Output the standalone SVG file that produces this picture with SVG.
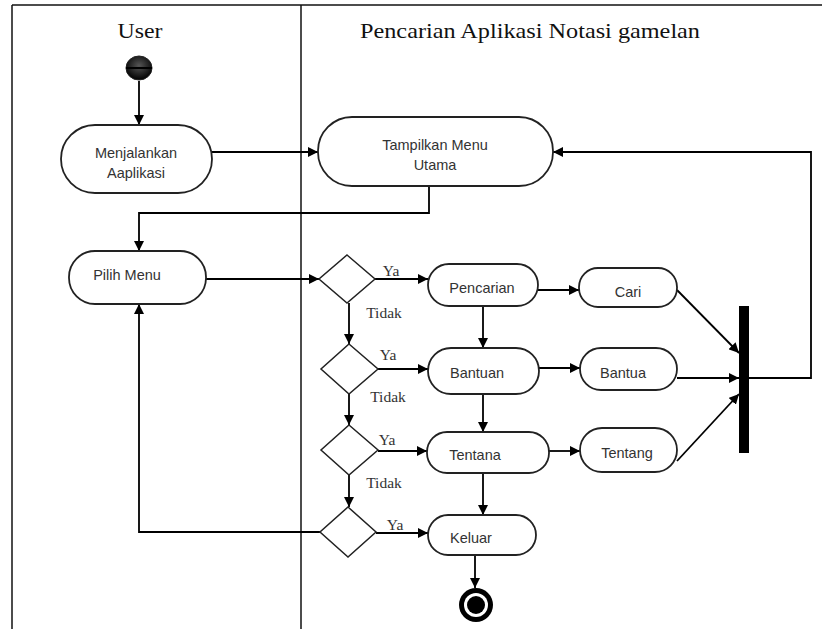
<svg xmlns="http://www.w3.org/2000/svg" width="822" height="629" viewBox="0 0 822 629">
<defs>
<marker id="arr" viewBox="0 0 10 10" refX="10" refY="5" markerWidth="10" markerHeight="10" markerUnits="userSpaceOnUse" orient="auto">
<path d="M0,0 L10,5 L0,10 z" fill="#000"/>
</marker>
<radialGradient id="sph" cx="50%" cy="40%" r="60%">
<stop offset="0" stop-color="#555"/>
<stop offset="1" stop-color="#000"/>
</radialGradient>
</defs>
<style>
.frame{stroke:#111;stroke-width:1.5;fill:none}
.node{fill:#fff;stroke:#222;stroke-width:1.8}
.dia{fill:#fff;stroke:#222;stroke-width:1.5}
.t{font-family:"Liberation Sans",Arial,sans-serif;font-size:14.5px;fill:#333;text-anchor:middle}
.h{font-family:"Liberation Serif","Times New Roman",serif;font-size:22px;fill:#111;text-anchor:middle}
.l{font-family:"Liberation Serif","Times New Roman",serif;font-size:15.5px;fill:#333;text-anchor:middle}
.c{fill:none;stroke:#000;stroke-width:1.8}
.c.a{marker-end:url(#arr)}
</style>
<rect width="822" height="629" fill="#fff"/>
<g id="frame">
<line class="frame" x1="12" y1="5" x2="822" y2="5"/>
<line class="frame" x1="12" y1="5" x2="12" y2="629"/>
<line class="frame" x1="301" y1="5" x2="301" y2="629" stroke="#333"/>
<text class="h" x="140" y="38" textLength="45" lengthAdjust="spacingAndGlyphs">User</text>
<text class="h" x="530" y="38" textLength="340" lengthAdjust="spacingAndGlyphs">Pencarian Aplikasi Notasi gamelan</text>
</g>
<g id="connectors">
<line class="c a" x1="139" y1="81" x2="139" y2="125"/>
<line class="c a" x1="212" y1="152" x2="318" y2="152"/>
<polyline class="c a" points="429,186 429,213 139,213 139,251"/>
<line class="c a" x1="206" y1="279" x2="319" y2="279"/>
<line class="c a" x1="375" y1="279" x2="428" y2="279"/>
<line class="c a" x1="349" y1="303" x2="349" y2="344"/>
<line class="c a" x1="378" y1="369" x2="428" y2="369"/>
<line class="c a" x1="349" y1="394" x2="349" y2="425"/>
<line class="c a" x1="378" y1="451" x2="427" y2="451"/>
<line class="c a" x1="349" y1="475" x2="349" y2="507"/>
<line class="c a" x1="376" y1="533" x2="428" y2="533"/>
<polyline class="c a" points="320,532 139,532 139,304"/>
<line class="c a" x1="483" y1="306" x2="483" y2="348"/>
<line class="c a" x1="483" y1="394" x2="483" y2="432"/>
<line class="c a" x1="483" y1="473" x2="483" y2="515"/>
<line class="c a" x1="475" y1="555" x2="475" y2="588"/>
<line class="c a" x1="538" y1="290" x2="579" y2="290"/>
<line class="c a" x1="539" y1="368" x2="580" y2="368"/>
<line class="c a" x1="549" y1="451" x2="580" y2="451"/>
<line class="c a" x1="677" y1="290" x2="739" y2="353"/>
<line class="c a" x1="677" y1="378" x2="739" y2="378"/>
<line class="c a" x1="677" y1="461" x2="739" y2="394"/>
<polyline class="c a" points="749,378 811,378 811,152 553,152"/>
</g>
<g id="start">
<ellipse cx="139" cy="68" rx="13" ry="12" fill="url(#sph)" stroke="#222" stroke-width="1"/>
<line x1="126" y1="68" x2="152" y2="68" stroke="#000" stroke-width="2"/>
</g>
<g id="menjalankan">
<rect class="node" x="61" y="125" width="151" height="68" rx="34"/>
<text class="t" x="136" y="158">Menjalankan</text>
<text class="t" x="136" y="178">Aaplikasi</text>
</g>
<g id="tampilkan">
<rect class="node" x="318" y="117" width="235" height="69" rx="34"/>
<text class="t" x="435" y="150">Tampilkan Menu</text>
<text class="t" x="435" y="170">Utama</text>
</g>
<g id="pilih">
<rect class="node" x="69" y="251" width="137" height="53" rx="26"/>
<text class="t" x="127" y="280">Pilih Menu</text>
</g>
<g id="d1">
<polygon class="dia" points="347,255 375,279 347,303 319,279"/>
<text class="l" x="391" y="276">Ya</text>
<text class="l" x="384" y="318">Tidak</text>
</g>
<g id="d2">
<polygon class="dia" points="349,344 378,369 349,394 321,369"/>
<text class="l" x="388" y="360">Ya</text>
<text class="l" x="388" y="402">Tidak</text>
</g>
<g id="d3">
<polygon class="dia" points="349,425 378,450 349,475 321,450"/>
<text class="l" x="387" y="445">Ya</text>
<text class="l" x="384" y="488">Tidak</text>
</g>
<g id="d4">
<polygon class="dia" points="348,507 376,532 348,557 320,532"/>
<text class="l" x="395" y="530">Ya</text>
</g>
<g id="pencarian">
<rect class="node" x="428" y="264" width="110" height="42" rx="21"/>
<text class="t" x="482" y="293">Pencarian</text>
</g>
<g id="bantuan">
<rect class="node" x="428" y="348" width="111" height="46" rx="23"/>
<text class="t" x="477" y="378">Bantuan</text>
</g>
<g id="tentana">
<rect class="node" x="427" y="432" width="122" height="41" rx="20"/>
<text class="t" x="475" y="460">Tentana</text>
</g>
<g id="keluar">
<rect class="node" x="428" y="515" width="108" height="40" rx="20"/>
<text class="t" x="471" y="543">Keluar</text>
</g>
<g id="cari">
<rect class="node" x="579" y="268" width="98" height="39" rx="19"/>
<text class="t" x="628" y="297">Cari</text>
</g>
<g id="bantua">
<rect class="node" x="580" y="348" width="97" height="42" rx="21"/>
<text class="t" x="623" y="378">Bantua</text>
</g>
<g id="tentang">
<rect class="node" x="580" y="428" width="97" height="44" rx="22"/>
<text class="t" x="627" y="458">Tentang</text>
</g>
<g id="join">
<rect x="739" y="306" width="10" height="147" fill="#000"/>
</g>
<g id="end">
<circle cx="476" cy="605" r="17" fill="#000"/>
<circle cx="476" cy="605" r="12" fill="#fff"/>
<circle cx="476" cy="605" r="9" fill="#000"/>
</g>
</svg>
